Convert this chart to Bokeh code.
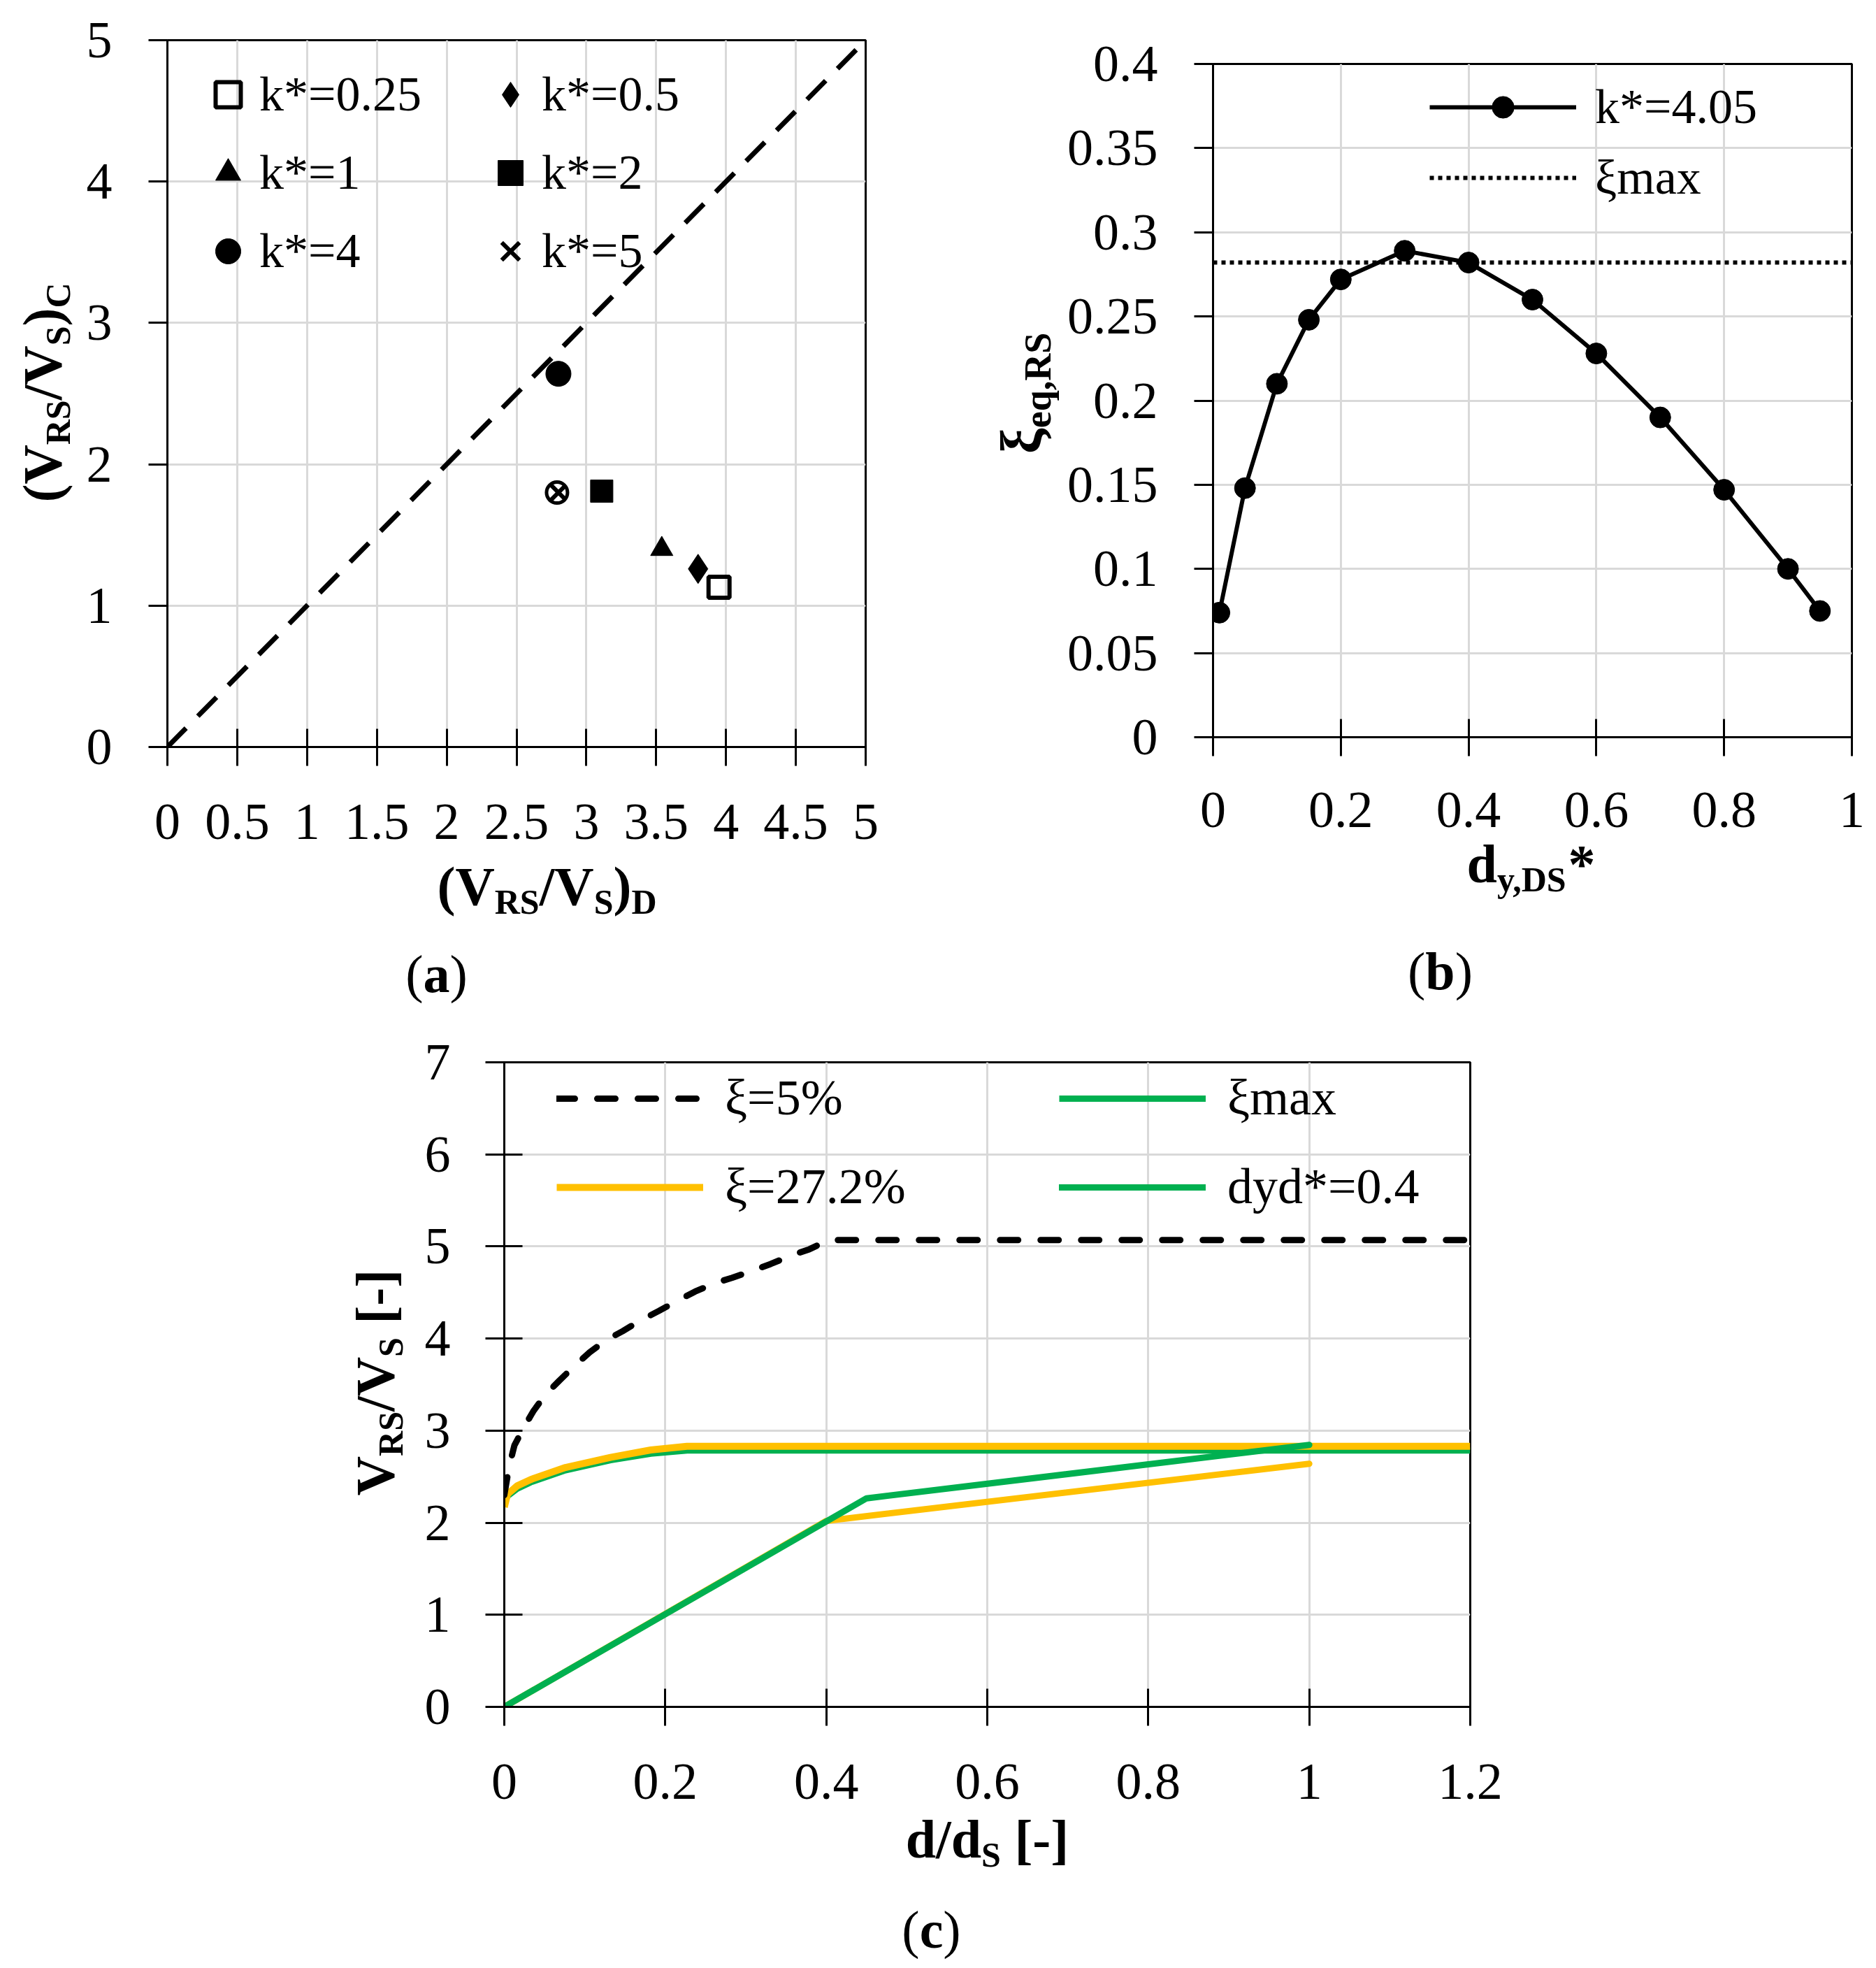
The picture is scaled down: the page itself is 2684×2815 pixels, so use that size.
import math
from bokeh.plotting import figure
from bokeh.models import (Legend, LegendItem, FixedTicker,
                          CustomJSTickFormatter, Range1d, Spacer)
from bokeh.layouts import row, column
from bokeh.embed import file_html
from bokeh.resources import INLINE
from bokeh.core.properties import value

SERIF = "Liberation Serif"

# ---------------- (a) data ----------------
a_series = ["k*=0.25", "k*=0.5", "k*=1", "k*=2", "k*=4", "k*=5"]
a_vd = [3.95, 3.80, 3.54, 3.11, 2.80, 2.80]
a_vc = [1.13, 1.26, 1.40, 1.81, 2.64, 1.80]
a_extra_vd = [2.79]
a_extra_vc = [1.80]
a_diag_x = [0, 5]
a_diag_y = [0, 5]
a_xticks = [0, 0.5, 1, 1.5, 2, 2.5, 3, 3.5, 4, 4.5, 5]
a_xlabels = ["0", "0.5", "1", "1.5", "2", "2.5", "3", "3.5", "4", "4.5", "5"]
a_yticks = [0, 1, 2, 3, 4, 5]
a_ylabels = ["0", "1", "2", "3", "4", "5"]

# ---------------- (b) data ----------------
b_dy = [0.01, 0.05, 0.1, 0.15, 0.2, 0.3, 0.4, 0.5, 0.6, 0.7, 0.8, 0.9, 0.95]
b_xi = [0.074, 0.148, 0.21, 0.248, 0.272, 0.289, 0.282, 0.26, 0.228, 0.19, 0.147, 0.1, 0.075]
b_ximax_x = [0, 1]
b_ximax_y = [0.282, 0.282]
b_xticks = [0, 0.2, 0.4, 0.6, 0.8, 1]
b_xlabels = ["0", "0.2", "0.4", "0.6", "0.8", "1"]
b_yticks = [0, 0.05, 0.1, 0.15, 0.2, 0.25, 0.3, 0.35, 0.4]
b_ylabels = ["0", "0.05", "0.1", "0.15", "0.2", "0.25", "0.3", "0.35", "0.4"]

# ---------------- (c) data ----------------
c5_x = [0.0, 0.006, 0.0126, 0.024, 0.036, 0.051, 0.068, 0.088, 0.106, 0.126, 0.147,
        0.17, 0.192, 0.215, 0.237, 0.261, 0.283, 0.309, 0.331, 0.356, 0.379, 0.403, 1.2]
c5_y = [2.3, 2.61, 2.84, 3.03, 3.21, 3.39, 3.54, 3.71, 3.85, 3.98, 4.08,
        4.20, 4.30, 4.41, 4.51, 4.60, 4.66, 4.74, 4.81, 4.90, 4.97, 5.07, 5.07]
cmax_x = [0.0, 0.004, 0.016, 0.033, 0.076, 0.132, 0.182, 0.227, 1.2]
cmax_y = [2.22, 2.29, 2.37, 2.44, 2.57, 2.68, 2.75, 2.785, 2.785]
c27_x = [0.0, 0.004, 0.016, 0.033, 0.076, 0.132, 0.182, 0.227, 1.2]
c27_y = [2.17, 2.31, 2.40, 2.47, 2.60, 2.71, 2.79, 2.83, 2.83]
c27b_x = [0.0, 0.4, 1.0]
c27b_y = [0.0, 2.02, 2.64]
cdyd_x = [0.0, 0.45, 1.0]
cdyd_y = [0.0, 2.265, 2.845]
c_xticks = [0, 0.2, 0.4, 0.6, 0.8, 1, 1.2]
c_xlabels = ["0", "0.2", "0.4", "0.6", "0.8", "1", "1.2"]
c_yticks = [0, 1, 2, 3, 4, 5, 6, 7]
c_ylabels = ["0", "1", "2", "3", "4", "5", "6", "7"]

GREEN = "#00B050"
YELLOW = "#FFC000"
GRID = "#D9D9D9"

FMT_CODE = """
let best = 0, bd = Infinity;
for (let i = 0; i < vals.length; i++) {
  const d = Math.abs(vals[i] - tick);
  if (d < bd) { bd = d; best = i; }
}
return labs[best];
"""

REG_W = {'(': .333, ')': .333, '/': .278, 'V': .722, 'R': .667, 'S': .556, 'D': .722,
         'C': .667, 'd': .5, ' ': .25, '[': .333, ']': .333, '-': .333, 'y': .5, ',': .25,
         '*': .5, 'e': .444, 'q': .5, 'a': .444, 'b': .5, 'c': .444, 'ξ': .45}
BOLD_W = {'(': .333, ')': .333, '/': .278, 'V': .722, 'R': .722, 'S': .556, 'D': .722,
          'C': .722, 'd': .556, ' ': .25, '[': .333, ']': .333, '-': .333, 'y': .5, ',': .25,
          '*': .5, 'e': .444, 'q': .556, 'a': .5, 'b': .556, 'c': .444, 'ξ': .45}
BASE_K = 0.28   # rendered baseline sits ~0.28 em below the anchor: compensate

PAGE_W, PAGE_H = 2668, 2810


def tw(s, size, bold):
    t = BOLD_W if bold else REG_W
    return sum(t.get(ch, 0.5) for ch in s) * size


def make_fig(width, height, left, top, fw, fh, xr, yr):
    p = figure(width=width, height=height, x_range=Range1d(*xr), y_range=Range1d(*yr),
               output_backend="svg", toolbar_location=None,
               min_border_left=left, min_border_right=width - left - fw,
               min_border_top=top, min_border_bottom=height - top - fh)
    p.frame_align = False
    p.outline_line_color = "black"
    p.outline_line_width = 3
    p.background_fill_color = "white"
    p.border_fill_color = "white"
    p.grid.grid_line_color = GRID
    p.grid.grid_line_width = 3
    return p


def setup_axes(p, xt, xl, yt, yl, y_cross, x_standoff, y_standoff=52):
    p.xaxis.ticker = FixedTicker(ticks=xt)
    p.yaxis.ticker = FixedTicker(ticks=yt)
    p.xaxis.formatter = CustomJSTickFormatter(args=dict(vals=xt, labs=xl), code=FMT_CODE)
    p.yaxis.formatter = CustomJSTickFormatter(args=dict(vals=yt, labs=yl), code=FMT_CODE)
    for ax in list(p.xaxis) + list(p.yaxis):
        ax.axis_line_width = 3
        ax.axis_line_color = "black"
        ax.major_tick_line_width = 3
        ax.major_tick_line_color = "black"
        ax.minor_tick_line_color = None
        ax.major_tick_out = 27
        ax.major_label_text_font = SERIF
        ax.major_label_text_font_size = "74px"
        ax.major_label_text_color = "black"
        ax.axis_label = None
    for ax in p.xaxis:
        ax.major_tick_in = 26
        ax.major_label_standoff = x_standoff
    for ax in p.yaxis:
        ax.major_tick_in = 26 if y_cross else 0
        ax.major_label_standoff = y_standoff


# transparent full-page overlay that carries titles and panel captions
ov = figure(width=PAGE_W, height=PAGE_H, x_range=Range1d(0, PAGE_W), y_range=Range1d(0, PAGE_H),
            output_backend="svg", toolbar_location=None,
            x_axis_location=None, y_axis_location=None,
            min_border_left=0, min_border_right=0, min_border_top=0, min_border_bottom=0)
ov.frame_align = False
ov.outline_line_color = None
ov.grid.visible = False
ov.background_fill_alpha = 0
ov.border_fill_alpha = 0
ov.margin = (-PAGE_H, 0, 0, 0)


def rich(px, py, pieces, vertical=False):
    """Run of text pieces (text, size, bold, baseline shift) centred at page x=px
    (or y=py when vertical) with its baseline at page y=py (or x=px)."""
    total = sum(tw(t, s, b) for t, s, b, d in pieces)
    off = -total / 2
    for t, s, b, d in pieces:
        st = t.lstrip(" ")
        off += tw(t[:len(t) - len(st)], s, b)
        shift = d + BASE_K * s
        if vertical:
            x = px - shift
            y = PAGE_H - py + off
            ang = math.pi / 2
        else:
            x = px + off
            y = PAGE_H - py + shift
            ang = 0
        ov.text(x=[x], y=[y], text=[st], angle=ang, text_font=value(SERIF),
                text_font_size=value(f"{s}px"), text_font_style="bold" if b else "normal",
                text_color="black", text_align="left", text_baseline="alphabetic")
        off += tw(st, s, b)


def caption_pieces(letter):
    return [("(", 76, False, 0), (letter, 76, True, 0), (")", 76, False, 0)]


# ================= figure (a) =================  page x 0..1308, y 0..1450
pa = make_fig(1308, 1450, 239, 57, 999, 1011, (0, 5), (0, 5))
setup_axes(pa, a_xticks, a_xlabels, a_yticks, a_ylabels, y_cross=False, x_standoff=55)
pa.line(a_diag_x, a_diag_y, line_color="black", line_width=7, line_dash="38 24")
pa.scatter(a_extra_vd, a_extra_vc, marker="circle", size=30, fill_color=None,
           line_color="black", line_width=5)
a_markers = ["square", "diamond", "triangle", "square", "circle", "x"]
a_fill = [None, "black", "black", "black", "black", None]
a_size = [30, 42, 32, 32, 36, 30]
a_lw = [6, 1, 1, 1, 1, 6]
a_items = []
for i, lbl in enumerate(a_series):
    r = pa.scatter([a_vd[i]], [a_vc[i]], marker=a_markers[i], size=a_size[i],
                   fill_color=a_fill[i], line_color="black", line_width=a_lw[i])
    a_items.append(LegendItem(label=lbl, renderers=[r]))
leg_a = Legend(items=a_items, location=(42, 659), orientation="horizontal", ncols=2,
               glyph_width=90, glyph_height=100, label_height=100, label_width=302,
               label_standoff=0, spacing=12, padding=0, margin=0,
               label_text_font=SERIF, label_text_font_size="70px", label_text_color="black",
               background_fill_alpha=0, border_line_alpha=0)
pa.add_layout(leg_a)

a_title = [("(V", 78, True, 0), ("RS", 50, True, -14), ("/V", 78, True, 0),
           ("S", 50, True, -14), (")", 78, True, 0)]
rich(782, 1289, a_title + [("D", 50, True, -14)])
rich(82, 561, a_title + [("C", 50, True, -14)], vertical=True)
rich(624, 1414, caption_pieces("a"))

# ================= figure (b) =================  page x 1308..2668, y 0..1450
pb = make_fig(1360, 1450, 427, 91, 914, 963, (0, 1), (0, 0.4))
setup_axes(pb, b_xticks, b_xlabels, b_yticks, b_ylabels, y_cross=False, x_standoff=52)
rb_max = pb.line(b_ximax_x, b_ximax_y, line_color="black", line_width=6, line_dash="6 6")
rb_l = pb.line(b_dy, b_xi, line_color="black", line_width=6)
rb_s = pb.scatter(b_dy, b_xi, marker="circle", size=30, fill_color="black", line_color="black")
leg_b = Legend(items=[LegendItem(label="k*=4.05", renderers=[rb_l, rb_s]),
                      LegendItem(label="ξmax", renderers=[rb_max])],
               location=(310, 760), orientation="vertical",
               glyph_width=210, glyph_height=78, label_height=78,
               label_standoff=27, spacing=21, padding=0, margin=0,
               label_text_font=SERIF, label_text_font_size="70px", label_text_color="black",
               background_fill_alpha=0, border_line_alpha=0)
pb.add_layout(leg_b)

rich(2190, 1257, [("d", 78, True, 0), ("y,DS", 50, True, -14), ("*", 78, True, 0)])
rich(1484, 562, [("ξ", 82, True, 0), ("eq,RS", 54, True, -16)], vertical=True)
rich(2060, 1410, caption_pieces("b"))

# ================= figure (c) =================  page x 600..2160, y 1450..2810
pc = make_fig(1560, 1360, 121, 69, 1382, 922, (0, 1.2), (0, 7))
setup_axes(pc, c_xticks, c_xlabels, c_yticks, c_ylabels, y_cross=True, x_standoff=55,
           y_standoff=50)
rc_max = pc.line(cmax_x, cmax_y, line_color=GREEN, line_width=9)
rc_27 = pc.line(c27_x, c27_y, line_color=YELLOW, line_width=10)
pc.line(c27b_x, c27b_y, line_color=YELLOW, line_width=9, line_cap="round")
rc_dyd = pc.line(cdyd_x, cdyd_y, line_color=GREEN, line_width=9, line_cap="round")
rc_5 = pc.line(c5_x, c5_y, line_color="black", line_width=9, line_dash="26 32", line_cap="round")
leg_c = Legend(items=[LegendItem(label="ξ=5%", renderers=[rc_5]),
                      LegendItem(label="ξmax", renderers=[rc_max]),
                      LegendItem(label="ξ=27.2%", renderers=[rc_27]),
                      LegendItem(label="dyd*=0.4", renderers=[rc_dyd])],
               location=(75, 702), orientation="horizontal", ncols=2,
               glyph_width=210, glyph_height=78, label_height=78, label_width=434,
               label_standoff=31, spacing=44, padding=0, margin=0,
               label_text_font=SERIF, label_text_font_size="72px", label_text_color="black",
               background_fill_alpha=0, border_line_alpha=0)
pc.add_layout(leg_c)

rich(1412, 2652, [("d/d", 78, True, 0), ("S", 50, True, -14), (" [-]", 78, True, 0)])
rich(558, 1977, [("V", 78, True, 0), ("RS", 50, True, -14), ("/V", 78, True, 0),
                 ("S", 50, True, -14), (" [-]", 78, True, 0)], vertical=True)
rich(1332, 2781, caption_pieces("c"))

row1 = row(pa, pb)
row2 = row(Spacer(width=600, height=1360), pc)
layout = column(row1, row2, ov)
open("out.html", "w").write(file_html(layout, INLINE))
